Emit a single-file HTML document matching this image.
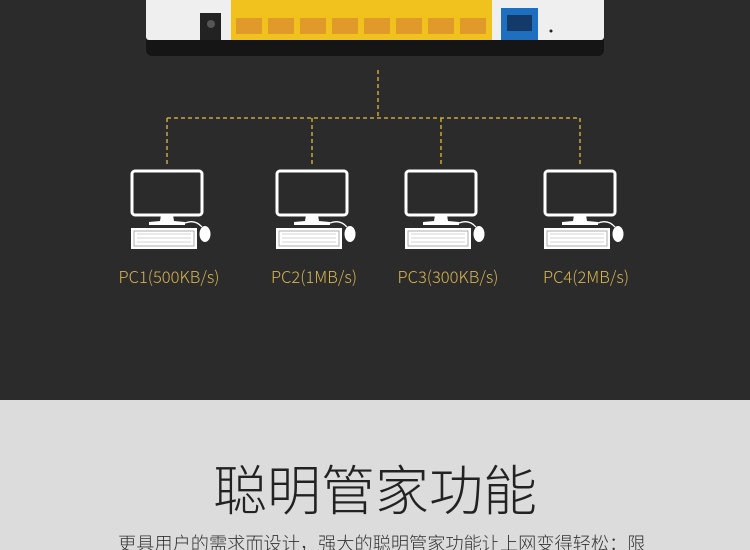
<!DOCTYPE html>
<html><head><meta charset="utf-8"><style>
html,body{margin:0;width:750px;height:550px;overflow:hidden}
body{background:#2b2b2b;font-family:"Liberation Sans","Noto Sans CJK SC",sans-serif;position:relative}
.abs{position:absolute}
.lbl{position:absolute;top:264px;color:#d6b352;font-size:16.5px;width:140px;text-align:center;font-family:"Noto Sans CJK SC","Liberation Sans",sans-serif;font-weight:300}
</style></head><body>
<svg class="abs" style="left:0;top:0" width="750" height="400">
<rect x="146" y="-10" width="458" height="66" rx="6" fill="#151515"/>
<rect x="146" y="-10" width="458" height="50" rx="3" fill="#efefef"/>
<rect x="200" y="13" width="21" height="27" fill="#222"/>
<circle cx="211" cy="24" r="4" fill="#555"/>
<rect x="231" y="0" width="261" height="40" fill="#f1c21e"/>
<g fill="#e09a2a">
<rect x="236" y="18" width="26" height="16"/><rect x="268" y="18" width="26" height="16"/><rect x="300" y="18" width="26" height="16"/><rect x="332" y="18" width="26" height="16"/><rect x="364" y="18" width="26" height="16"/><rect x="396" y="18" width="26" height="16"/><rect x="428" y="18" width="26" height="16"/><rect x="460" y="18" width="26" height="16"/>
</g>
<rect x="501" y="8" width="37" height="32" fill="#1f6fc0"/>
<rect x="507" y="15" width="25" height="16" fill="#143a6a"/>
<circle cx="551" cy="31" r="1.5" fill="#222"/>
<g stroke="#c9a73a" stroke-width="1.5" stroke-dasharray="4,3" fill="none">
<line x1="378" y1="70" x2="378" y2="118"/>
<line x1="167" y1="118" x2="580" y2="118"/>
<line x1="167" y1="118" x2="167" y2="165"/>
<line x1="312" y1="118" x2="312" y2="165"/>
<line x1="441" y1="118" x2="441" y2="165"/>
<line x1="580" y1="118" x2="580" y2="165"/>
</g>
<defs><g id="pc">
<rect x="-35" y="0" width="70" height="44" rx="3" fill="none" stroke="#fff" stroke-width="3"/>
<path d="M-6 44 L-7 50 L-18 51 L-18 54 L18 54 L18 51 L7 50 L6 44Z" fill="#fff"/>
<path d="M18 52 Q28 48 35 56" stroke="#fff" fill="none" stroke-width="1.3"/>
<rect x="-36" y="57" width="66" height="21" fill="#fff"/>
<rect x="-33" y="60" width="60" height="15" fill="none" stroke="#999" stroke-width="0.8"/>
<path d="M-30 63H24M-30 67H24M-30 71H24" stroke="#aaa" stroke-width="0.6"/>
<ellipse cx="38" cy="63" rx="5.5" ry="8" fill="#fff"/>
</g></defs>
<use href="#pc" x="167" y="171"/>
<use href="#pc" x="312" y="171"/>
<use href="#pc" x="441" y="171"/>
<use href="#pc" x="580" y="171"/>
</svg>
<div class="lbl" style="left:99px">PC1(500KB/s)</div>
<div class="lbl" style="left:244px">PC2(1MB/s)</div>
<div class="lbl" style="left:378px">PC3(300KB/s)</div>
<div class="lbl" style="left:516px">PC4(2MB/s)</div>
<div class="abs" style="left:0;top:400px;width:750px;height:150px;background:#dcdcdc"></div>
<div class="abs" style="left:0;top:454px;width:750px;text-align:center;font-size:54px;color:#222;font-family:'Noto Sans CJK SC',sans-serif;font-weight:300;line-height:66px">聪明管家功能</div>
<div class="abs" style="left:118px;top:530px;width:640px;white-space:nowrap;font-size:18.2px;color:#333;font-family:'Noto Sans CJK SC',sans-serif;font-weight:300;line-height:26px">更具用户的需求而设计，强大的聪明管家功能让上网变得轻松：限</div>
</body></html>
